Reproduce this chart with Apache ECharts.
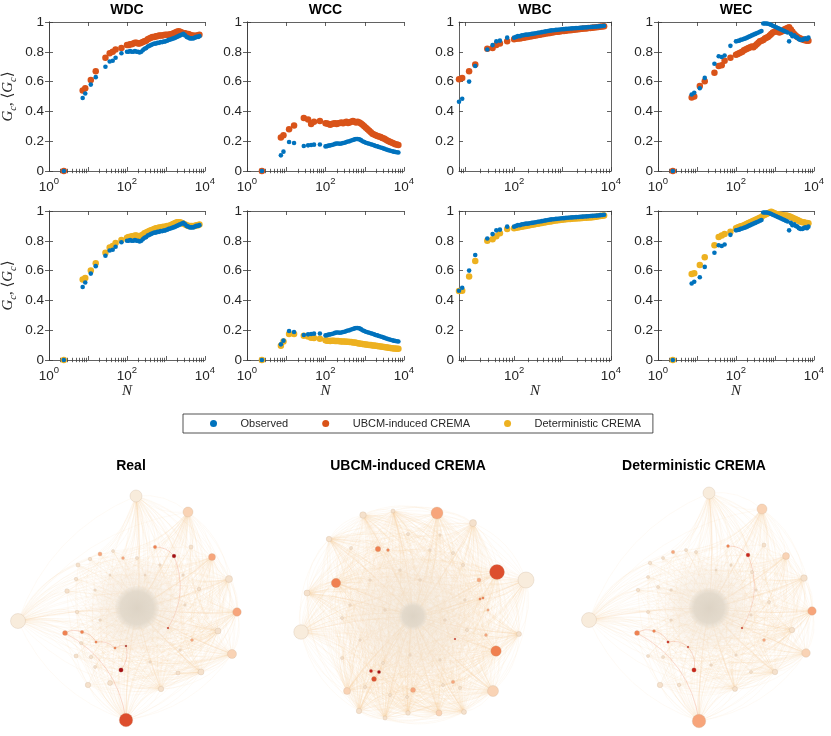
<!DOCTYPE html>
<html>
<head>
<meta charset="utf-8">
<script src="https://cdn.jsdelivr.net/npm/echarts@6/dist/echarts.min.js"></script>
<style>
  html, body { margin: 0; padding: 0; background: #fff; }
  #chart { width: 831px; height: 736px; }
</style>
</head>
<body>
<div id="chart"></div>
<script>
// sample sizes N shared by every panel
const sampleSizes = [2.4, 7.3, 8.5, 11.8, 15.8, 28, 36, 43, 51, 72,
  100, 110, 120, 132, 145, 160, 175, 192, 210, 232,
  255, 280, 310, 340, 375, 410, 450, 500, 550, 600,
  660, 730, 800, 880, 970, 1070, 1180, 1300, 1430, 1570,
  1730, 1900, 2100, 2300, 2550, 2800, 3100, 3400, 3750, 4100,
  4500, 5000, 5500, 6000, 6600, 7200];

const wdcObserved = [0, 0.49, 0.52, 0.58, 0.63, 0.70, 0.735, 0.74, 0.76, 0.79,
  0.80, 0.80, 0.805, 0.80, 0.80, 0.805, 0.80, 0.80, 0.795, 0.80,
  0.81, 0.82, 0.825, 0.835, 0.84, 0.845, 0.85, 0.855, 0.855, 0.86,
  0.86, 0.865, 0.865, 0.868, 0.87, 0.875, 0.88, 0.883, 0.887, 0.89,
  0.895, 0.90, 0.905, 0.91, 0.915, 0.92, 0.91, 0.90, 0.895, 0.89,
  0.89, 0.89, 0.895, 0.90, 0.90, 0.905];
const wdcUbcm = [0, 0.54, 0.555, 0.61, 0.67, 0.76, 0.79, 0.80, 0.815, 0.825,
  0.845, 0.845, 0.85, 0.85, 0.855, 0.86, 0.86, 0.855, 0.855, 0.86,
  0.865, 0.87, 0.875, 0.885, 0.89, 0.895, 0.90, 0.90, 0.905, 0.905,
  0.91, 0.91, 0.91, 0.912, 0.915, 0.915, 0.915, 0.918, 0.92, 0.925,
  0.93, 0.935, 0.938, 0.935, 0.93, 0.925, 0.925, 0.92, 0.92, 0.915,
  0.91, 0.91, 0.905, 0.91, 0.91, 0.915];
const wdcDet = [0, 0.54, 0.55, 0.60, 0.65, 0.72, 0.755, 0.765, 0.785, 0.805,
  0.82, 0.825, 0.825, 0.83, 0.83, 0.835, 0.835, 0.83, 0.83, 0.835,
  0.84, 0.85, 0.855, 0.86, 0.865, 0.87, 0.875, 0.88, 0.885, 0.885,
  0.89, 0.89, 0.892, 0.895, 0.895, 0.90, 0.90, 0.905, 0.91, 0.915,
  0.92, 0.925, 0.925, 0.925, 0.92, 0.915, 0.91, 0.905, 0.90, 0.90,
  0.90, 0.90, 0.90, 0.905, 0.905, 0.91];

const wccObserved = [0, 0.105, 0.13, 0.195, 0.188, 0.168, 0.172, 0.175, 0.177, 0.178,
  0.165, 0.167, 0.17, 0.172, 0.175, 0.178, 0.182, 0.185, 0.185, 0.183,
  0.185, 0.188, 0.19, 0.195, 0.198, 0.20, 0.205, 0.208, 0.212, 0.215,
  0.215, 0.212, 0.207, 0.20, 0.195, 0.19, 0.186, 0.183, 0.18, 0.176,
  0.172, 0.168, 0.165, 0.161, 0.158, 0.154, 0.15, 0.146, 0.142, 0.139,
  0.136, 0.133, 0.13, 0.128, 0.126, 0.124];
const wccUbcm = [0, 0.225, 0.24, 0.28, 0.305, 0.355, 0.345, 0.315, 0.33, 0.335,
  0.32, 0.318, 0.315, 0.31, 0.315, 0.318, 0.32, 0.316, 0.32, 0.322,
  0.325, 0.32, 0.325, 0.33, 0.322, 0.325, 0.33, 0.335, 0.33, 0.325,
  0.33, 0.325, 0.318, 0.31, 0.30, 0.29, 0.28, 0.27, 0.26, 0.25,
  0.245, 0.24, 0.235, 0.232, 0.228, 0.222, 0.218, 0.212, 0.205, 0.20,
  0.195, 0.19, 0.185, 0.18, 0.178, 0.175];
const wccDet = [0, 0.095, 0.125, 0.175, 0.175, 0.163, 0.157, 0.15, 0.147, 0.143,
  0.132, 0.13, 0.13, 0.128, 0.13, 0.13, 0.128, 0.127, 0.128, 0.126,
  0.125, 0.125, 0.124, 0.123, 0.122, 0.12, 0.12, 0.118, 0.117, 0.115,
  0.113, 0.111, 0.109, 0.107, 0.106, 0.104, 0.103, 0.101, 0.10, 0.098,
  0.097, 0.095, 0.094, 0.092, 0.09, 0.089, 0.087, 0.085, 0.084, 0.082,
  0.08, 0.079, 0.078, 0.077, 0.076, 0.075];

const wbcObserved = [null, 0.465, 0.485, 0.60, 0.705, 0.815, 0.845, 0.87, 0.875, 0.895,
  0.895, 0.90, 0.905, 0.905, 0.91, 0.912, 0.915, 0.915, 0.918, 0.92,
  0.922, 0.925, 0.928, 0.93, 0.932, 0.935, 0.937, 0.94, 0.942, 0.944,
  0.945, 0.947, 0.948, 0.95, 0.951, 0.952, 0.954, 0.955, 0.956, 0.957,
  0.958, 0.959, 0.96, 0.961, 0.962, 0.963, 0.964, 0.965, 0.966, 0.967,
  0.968, 0.969, 0.97, 0.972, 0.973, 0.975];
const wbcUbcm = [null, 0.615, 0.625, 0.67, 0.715, 0.82, 0.825, 0.845, 0.855, 0.87,
  0.885, 0.887, 0.89, 0.89, 0.892, 0.895, 0.897, 0.90, 0.902, 0.905,
  0.907, 0.91, 0.912, 0.915, 0.917, 0.92, 0.922, 0.925, 0.927, 0.93,
  0.932, 0.934, 0.935, 0.937, 0.939, 0.94, 0.942, 0.944, 0.945, 0.947,
  0.948, 0.95, 0.951, 0.953, 0.954, 0.956, 0.957, 0.959, 0.96, 0.962,
  0.963, 0.965, 0.966, 0.968, 0.969, 0.971];
const wbcDet = [null, 0.463, 0.465, 0.56, 0.665, 0.80, 0.81, 0.83, 0.85, 0.88,
  0.885, 0.887, 0.89, 0.892, 0.895, 0.897, 0.90, 0.902, 0.905, 0.907,
  0.91, 0.912, 0.915, 0.918, 0.92, 0.923, 0.925, 0.928, 0.93, 0.932,
  0.934, 0.936, 0.938, 0.94, 0.942, 0.943, 0.945, 0.946, 0.947, 0.948,
  0.949, 0.95, 0.951, 0.952, 0.953, 0.954, 0.955, 0.956, 0.957, 0.958,
  0.96, 0.962, 0.964, 0.966, 0.968, 0.97];

const wecObserved = [0, 0.513, 0.525, 0.555, 0.625, 0.72, 0.77, 0.765, 0.775, 0.84,
  0.87, 0.872, 0.875, 0.88, 0.883, 0.887, 0.89, 0.895, 0.90, 0.905,
  0.91, 0.915, 0.92, 0.925, 0.93, 0.935, 0.94, 0.99, 0.99, 0.99,
  0.988, 0.985, 0.98, 0.975, 0.97, 0.965, 0.96, 0.955, 0.95, 0.945,
  0.94, 0.935, 0.93, 0.87, 0.92, 0.905, 0.91, 0.90, 0.895, 0.885,
  0.88, 0.88, 0.885, 0.89, 0.885, 0.895];
const wecUbcm = [0, 0.493, 0.50, 0.57, 0.603, 0.66, 0.705, 0.71, 0.74, 0.76,
  0.78, 0.785, 0.79, 0.795, 0.80, 0.81, 0.815, 0.82, 0.825, 0.83,
  0.835, 0.83, 0.84, 0.85, 0.86, 0.87, 0.875, 0.88, 0.89, 0.895,
  0.90, 0.91, 0.92, 0.93, 0.935, 0.94, 0.935, 0.93, 0.935, 0.94,
  0.95, 0.955, 0.96, 0.965, 0.95, 0.935, 0.92, 0.91, 0.90, 0.895,
  0.89, 0.885, 0.88, 0.878, 0.875, 0.875];
const wecDet = [0, 0.577, 0.582, 0.638, 0.69, 0.77, 0.825, 0.835, 0.845, 0.86,
  0.885, 0.89, 0.893, 0.897, 0.90, 0.905, 0.91, 0.915, 0.92, 0.925,
  0.93, 0.935, 0.94, 0.945, 0.95, 0.955, 0.96, 0.97, 0.975, 0.98,
  0.985, 0.99, 0.995, 0.99, 0.985, 0.98, 0.978, 0.975, 0.975, 0.972,
  0.97, 0.97, 0.968, 0.965, 0.96, 0.955, 0.95, 0.945, 0.94, 0.935,
  0.93, 0.925, 0.925, 0.92, 0.92, 0.918];

const panelTitles = ['WDC', 'WCC', 'WBC', 'WEC'];
const panelMinN = [1, 1, 7.3, 1];
const seriesNames = ['Observed', 'UBCM-induced CREMA', 'Deterministic CREMA'];
const yTicks = [0, 0.2, 0.4, 0.6, 0.8, 1];

// networks: layout coordinates, node strength, shade level (0 light .. 7 dark)
// core = [x, y, dense diameter, halo diameter]
const realCore = [137, 168, 44, 104];
const realHubs = [[136, 56, 12, 0], [188, 72, 10, 2], [212, 117, 7, 3], [229, 139, 7, 1],
  [237, 172, 8.5, 3], [218, 191, 6, 1], [232, 214, 9, 2], [201, 232, 6, 1], [161, 249, 5.5, 1],
  [126, 280, 13.5, 5], [18, 181, 15, 0]];
const realRing = [[65, 193, 5, 4], [82, 192, 3.5, 4], [96, 202, 2.5, 4], [115, 208, 2.5, 4],
  [126, 206, 2, 7], [121, 230, 4.5, 7], [155, 107, 3.5, 4], [174, 116, 4, 7], [168, 188, 2, 6],
  [88, 245, 5.5, 1], [110, 243, 5, 1], [67, 151, 4.5, 1], [78, 125, 4, 1], [100, 114, 4, 3],
  [191, 107, 4, 1], [199, 149, 3.5, 1], [192, 200, 3, 3], [76, 216, 4, 1], [91, 217, 3.5, 1],
  [178, 233, 4, 1], [76, 139, 3.5, 1], [90, 119, 3.5, 1], [113, 111, 3, 1], [77, 172, 3.5, 1],
  [81, 203, 3, 1], [95, 227, 3, 1], [123, 118, 3, 3], [137, 118, 3, 1], [160, 125, 2.5, 1],
  [183, 135, 2.5, 1], [185, 165, 2.5, 1], [180, 210, 2.5, 1], [150, 222, 2.5, 1],
  [100, 180, 2.5, 1], [95, 150, 2.5, 1], [145, 135, 2, 1], [110, 135, 2, 1]];
const realTrails = [['r', 6, 'r', 7], ['r', 0, 'r', 1], ['r', 1, 'r', 2], ['r', 2, 'r', 3],
  ['r', 3, 'r', 4], ['r', 4, 'r', 5], ['r', 0, 'h', 9], ['r', 7, 'r', 8]];

const ubcmCore = [133, 176, 28, 150];
const ubcmHubs = [[157, 73, 12, 3], [83, 75, 6.5, 1], [113, 71, 4, 1], [193, 83, 7, 1],
  [49, 99, 5.5, 1], [217, 132, 15, 5], [246, 140, 16, 0], [56, 143, 9.5, 4], [27, 153, 6, 1],
  [21, 192, 14.5, 0], [239, 194, 5, 1], [216, 211, 10.5, 4], [213, 251, 11, 2], [67, 251, 7, 2],
  [79, 271, 5.5, 1], [105, 278, 4, 1], [128, 273, 4.5, 1], [159, 273, 6, 2], [184, 272, 5, 1]];
const ubcmRing = [[133, 250, 5, 3], [127, 257, 3, 1], [94, 239, 5, 5], [91, 231, 3.5, 6],
  [99, 232, 3.5, 7], [98, 109, 5.5, 4], [108, 110, 3, 4], [199, 140, 4, 3], [200, 159, 2.5, 4],
  [203, 158, 2.5, 4], [208, 170, 2.5, 3], [206, 195, 3, 3], [173, 242, 3.5, 3], [180, 248, 3, 1],
  [175, 199, 2, 6], [163, 245, 3, 1], [85, 247, 3, 1], [110, 255, 3, 1], [71, 108, 3, 1],
  [173, 113, 3, 1], [128, 94, 3, 1], [183, 125, 3, 1], [62, 178, 3, 1], [62, 218, 3, 1],
  [103, 223, 3, 1], [187, 190, 3, 1], [150, 110, 2.5, 1], [90, 140, 2.5, 1], [80, 200, 2.5, 1],
  [160, 220, 2.5, 1], [185, 160, 2.5, 1], [120, 130, 2.5, 1], [140, 140, 2.5, 1],
  [105, 170, 2.5, 1], [165, 180, 2.5, 1], [130, 215, 2.5, 1], [70, 165, 2.5, 1], [160, 95, 2.5, 1]];
const ubcmTrails = [['r', 3, 'r', 4], ['r', 4, 'r', 2], ['r', 8, 'r', 9]];

const detCore = [158, 168, 40, 104];
const detHubs = [[158, 53, 12, 0], [211, 69, 10, 2], [235, 116, 7, 2], [253, 138, 6.5, 1],
  [261, 171, 8.5, 3], [241, 190, 5.5, 1], [255, 213, 8.5, 2], [224, 232, 5.5, 1], [184, 249, 5, 1],
  [148, 281, 13.5, 3], [38, 180, 15, 0]];
const detRing = [[86, 193, 5, 4], [103, 191, 3, 4], [117, 202, 2.5, 6], [137, 207, 2, 6],
  [143, 230, 4.5, 6], [177, 106, 3, 4], [197, 115, 4, 6], [191, 188, 2, 6], [109, 245, 5.5, 1],
  [128, 245, 3.5, 1], [213, 105, 4, 1], [87, 150, 3.5, 1], [99, 123, 3.5, 1], [122, 112, 3.5, 3],
  [97, 172, 3, 1], [97, 216, 3, 1], [112, 217, 3, 1], [200, 232, 3, 1], [213, 200, 3, 3],
  [218, 162, 3, 1], [201, 132, 3, 1], [145, 112, 3, 1], [135, 110, 3, 1], [112, 118, 3, 1],
  [107, 147, 3, 1], [97, 137, 3, 1], [180, 125, 2.5, 1], [205, 150, 2.5, 1], [200, 175, 2.5, 1],
  [185, 215, 2.5, 1], [160, 225, 2.5, 1], [120, 180, 2.5, 1], [120, 150, 2.5, 1], [165, 130, 2, 1]];
const detTrails = [['r', 5, 'r', 6], ['r', 0, 'r', 1], ['r', 1, 'r', 2], ['r', 2, 'r', 3],
  ['r', 3, 'r', 4], ['r', 0, 'h', 9], ['r', 6, 'r', 7]];

const networkTitles = ['Real', 'UBCM-induced CREMA', 'Deterministic CREMA'];

// ---- styling ----
const BLUE = '#0072BD', ORANGE = '#D95319', YELLOW = '#EDB120';
const INK = '#262626';
const SANS = '"Liberation Sans", Arial, Helvetica, sans-serif';
const SERIF = '"Liberation Serif", "DejaVu Serif", serif';
const shades = ['#f8ecdc', '#f5e1cc', '#f9d3b5', '#f7a57b', '#f08050', '#dd4e2d', '#c8251c', '#a50f15'];

const colLeft = [49, 247, 459, 658];
const colWidth = [156, 157, 152, 156];
const rowTop = [22, 211];
const rowHeight = 149;
const netLeft = [0, 280, 551];

const axisLineStyle = { color: '#3a3a3a', width: 0.8 };

function decadeLabel(v) {
  const e = Math.round(Math.log10(v));
  if (Math.abs(v - Math.pow(10, e)) > 1e-6 * v || e % 2 !== 0) return '';
  return '{b|10}{sup|' + e + '}';
}

function minorLogTicks(nMin) {
  const out = [];
  for (let d = 0; d < 4; d++) {
    for (let k = 2; k <= 9; k++) {
      const v = Math.log10(k * Math.pow(10, d));
      if (v > Math.log10(nMin)) out.push(v);
    }
  }
  return out;
}

const grid = [], xAxis = [], yAxis = [], series = [];
const panelData = [
  [wdcObserved, wdcUbcm, wdcDet],
  [wccObserved, wccUbcm, wccDet],
  [wbcObserved, wbcUbcm, wbcDet],
  [wecObserved, wecUbcm, wecDet]
];

function pairs(values) {
  const out = [];
  values.forEach((v, i) => { if (v !== null) out.push([sampleSizes[i], v]); });
  return out;
}

for (let r = 0; r < 2; r++) {
  for (let c = 0; c < 4; c++) {
    const g = grid.length;
    grid.push({ left: colLeft[c], top: rowTop[r], width: colWidth[c], height: rowHeight });
    const nMin = panelMinN[c];
    // minor ticks first so the main axes draw over them
    ['bottom', 'top'].forEach(pos => {
      xAxis.push({
        type: 'value', gridIndex: g, position: pos, offset: 0, min: Math.log10(nMin), max: 4,
        axisLine: { show: false },
        axisTick: { show: true, inside: true, length: 2.2, customValues: minorLogTicks(nMin), lineStyle: axisLineStyle },
        axisLabel: { show: false }, splitLine: { show: false }
      });
    });
    const xMain = xAxis.length;
    xAxis.push({
      type: 'log', logBase: 10, gridIndex: g, position: 'bottom', offset: 0, min: nMin, max: 10000,
      axisLine: { show: true, lineStyle: axisLineStyle },
      axisTick: { show: true, inside: true, length: 4, lineStyle: axisLineStyle },
      axisLabel: {
        show: true, margin: 5, formatter: decadeLabel, showMinLabel: true, showMaxLabel: true,
        rich: {
          b: { fontSize: 13.5, fontFamily: SANS, color: INK, verticalAlign: 'bottom' },
          sup: { fontSize: 9.5, fontFamily: SANS, color: INK, padding: [0, 0, 8, 0] }
        }
      },
      splitLine: { show: false },
      name: r === 1 ? 'N' : '', nameLocation: 'middle', nameGap: 24,
      nameTextStyle: { fontFamily: SERIF, fontStyle: 'italic', fontSize: 15, color: INK }
    });
    xAxis.push({
      type: 'log', logBase: 10, gridIndex: g, position: 'top', offset: 0, min: nMin, max: 10000,
      axisLine: { show: true, lineStyle: axisLineStyle },
      axisTick: { show: true, inside: true, length: 4, lineStyle: axisLineStyle },
      axisLabel: { show: false }, splitLine: { show: false }
    });
    const yMain = yAxis.length;
    yAxis.push({
      type: 'value', gridIndex: g, position: 'left', min: 0, max: 1, interval: 0.2,
      axisLine: { show: true, lineStyle: axisLineStyle },
      axisTick: { show: true, inside: true, length: 4, lineStyle: axisLineStyle },
      axisLabel: { show: true, margin: 5, fontSize: 13.5, fontFamily: SANS, color: INK,
        customValues: yTicks },
      splitLine: { show: false },
      name: c === 0 ? '{i|G}{s|c}{t|, \u27E8}{i|G}{s|c}{t|\u27E9}' : '',
      nameLocation: 'middle', nameGap: 30, nameRotate: 90,
      nameTextStyle: {
        rich: {
          i: { fontFamily: SERIF, fontStyle: 'italic', fontSize: 15, color: INK, verticalAlign: 'top' },
          s: { fontFamily: SERIF, fontStyle: 'italic', fontSize: 10.5, color: INK, verticalAlign: 'top', padding: [7, 0, 0, 0] },
          t: { fontFamily: SERIF, fontSize: 15, color: INK, verticalAlign: 'top' }
        }
      }
    });
    yAxis.push({
      type: 'value', gridIndex: g, position: 'right', min: 0, max: 1, interval: 0.2,
      axisLine: { show: true, lineStyle: axisLineStyle },
      axisTick: { show: true, inside: true, length: 4, lineStyle: axisLineStyle },
      axisLabel: { show: false }, splitLine: { show: false }
    });

    const [obs, ubcm, det] = panelData[c];
    const model = r === 0 ? ubcm : det;
    series.push({
      type: 'scatter', name: r === 0 ? seriesNames[1] : seriesNames[2],
      xAxisIndex: xMain, yAxisIndex: yMain, data: pairs(model),
      symbol: 'circle', symbolSize: 6.5, clip: false,
      itemStyle: { color: r === 0 ? ORANGE : YELLOW, opacity: 1 }, silent: true
    });
    series.push({
      type: 'scatter', name: seriesNames[0],
      xAxisIndex: xMain, yAxisIndex: yMain, data: pairs(obs),
      symbol: 'circle', symbolSize: 4.6, clip: false,
      itemStyle: { color: BLUE, opacity: 1 }, silent: true
    });
  }
}

// ---- networks ----
function buildNetwork(k, core, hubs, ring, trails) {
  const g = grid.length;
  grid.push({ left: netLeft[k], top: 440, width: 280, height: 296 });
  const xi = xAxis.length, yi = yAxis.length;
  xAxis.push({ type: 'value', gridIndex: g, min: 0, max: 280, show: false });
  yAxis.push({ type: 'value', gridIndex: g, min: 0, max: 296, inverse: true, show: false });

  const nodes = [];
  nodes.push({
    value: [core[0], core[1]], symbolSize: core[3],
    itemStyle: { color: { type: 'radial', x: 0.5, y: 0.5, r: 0.5, colorStops: [
      { offset: 0, color: 'rgba(236,224,208,0.6)' },
      { offset: 0.6, color: 'rgba(242,228,212,0.4)' },
      { offset: 1, color: 'rgba(248,234,220,0)' }] } }
  });
  nodes.push({
    value: [core[0], core[1]], symbolSize: core[2],
    itemStyle: { color: { type: 'radial', x: 0.5, y: 0.5, r: 0.5, colorStops: [
      { offset: 0, color: 'rgba(220,211,197,0.95)' },
      { offset: 0.75, color: 'rgba(225,216,202,0.88)' },
      { offset: 1, color: 'rgba(232,222,208,0.3)' }] } }
  });
  const nodeOf = n => ({
    value: [n[0], n[1]], symbolSize: n[2],
    itemStyle: { color: shades[n[3]], borderColor: 'rgba(200,172,145,0.5)', borderWidth: 0.5 }
  });
  const hubStart = nodes.length;
  hubs.forEach(n => nodes.push(nodeOf(n)));
  const ringStart = nodes.length;
  ring.forEach(n => nodes.push(nodeOf(n)));
  const idx = (tag, i) => (tag === 'h' ? hubStart : ringStart) + i;

  const links = [];
  for (let h = 0; h < hubs.length; h++) {
    const a = hubStart + h;
    links.push({ source: a, target: 1, lineStyle: { opacity: 0.35, width: 1.2, curveness: 0.05 } });
    for (let j = hubStart; j < nodes.length; j++) {
      if (j !== a) links.push({ source: a, target: j });
    }
  }
  for (let j = ringStart; j < nodes.length; j++) {
    links.push({ source: j, target: 1, lineStyle: { opacity: 0.3, curveness: 0.1 } });
  }
  trails.forEach(t => links.push({
    source: idx(t[0], t[1]), target: idx(t[2], t[3]),
    lineStyle: { color: '#e8704a', opacity: 0.4, width: 0.6, curveness: 0.25 }
  }));

  series.push({
    type: 'graph', coordinateSystem: 'cartesian2d', xAxisIndex: xi, yAxisIndex: yi,
    layout: 'none', silent: true, data: nodes, links: links,
    lineStyle: { color: '#f6d0a8', opacity: 0.19, width: 0.6, curveness: 0.22 },
    emphasis: { disabled: true }
  });
}

buildNetwork(0, realCore, realHubs, realRing, realTrails);
buildNetwork(1, ubcmCore, ubcmHubs, ubcmRing, ubcmTrails);
buildNetwork(2, detCore, detHubs, detRing, detTrails);

// ---- titles ----
const graphic = [];
panelTitles.forEach((t, c) => graphic.push({
  type: 'text', x: colLeft[c] + colWidth[c] / 2, y: 10,
  style: { text: t, font: 'bold 14px ' + SANS, fill: '#000', textAlign: 'center', textVerticalAlign: 'middle' }
}));
const netTitleX = [131, 408, 694];
networkTitles.forEach((t, k) => graphic.push({
  type: 'text', x: netTitleX[k], y: 466,
  style: { text: t, font: 'bold 14px ' + SANS, fill: '#000', textAlign: 'center', textVerticalAlign: 'middle' }
}));

const option = {
  animation: false,
  backgroundColor: '#fff',
  grid: grid,
  xAxis: xAxis,
  yAxis: yAxis,
  legend: {
    data: seriesNames, left: 183, top: 414,
    orient: 'horizontal', icon: 'circle', itemWidth: 44, itemHeight: 7, itemGap: 34,
    padding: [4, 12, 4, 27], borderColor: INK, borderWidth: 0.8, selectedMode: false,
    textStyle: { fontSize: 11, fontFamily: SANS, color: INK }
  },
  graphic: graphic,
  series: series
};

const chart = echarts.init(document.getElementById('chart'), null, { renderer: 'canvas' });
chart.setOption(option);
</script>
</body>
</html>
